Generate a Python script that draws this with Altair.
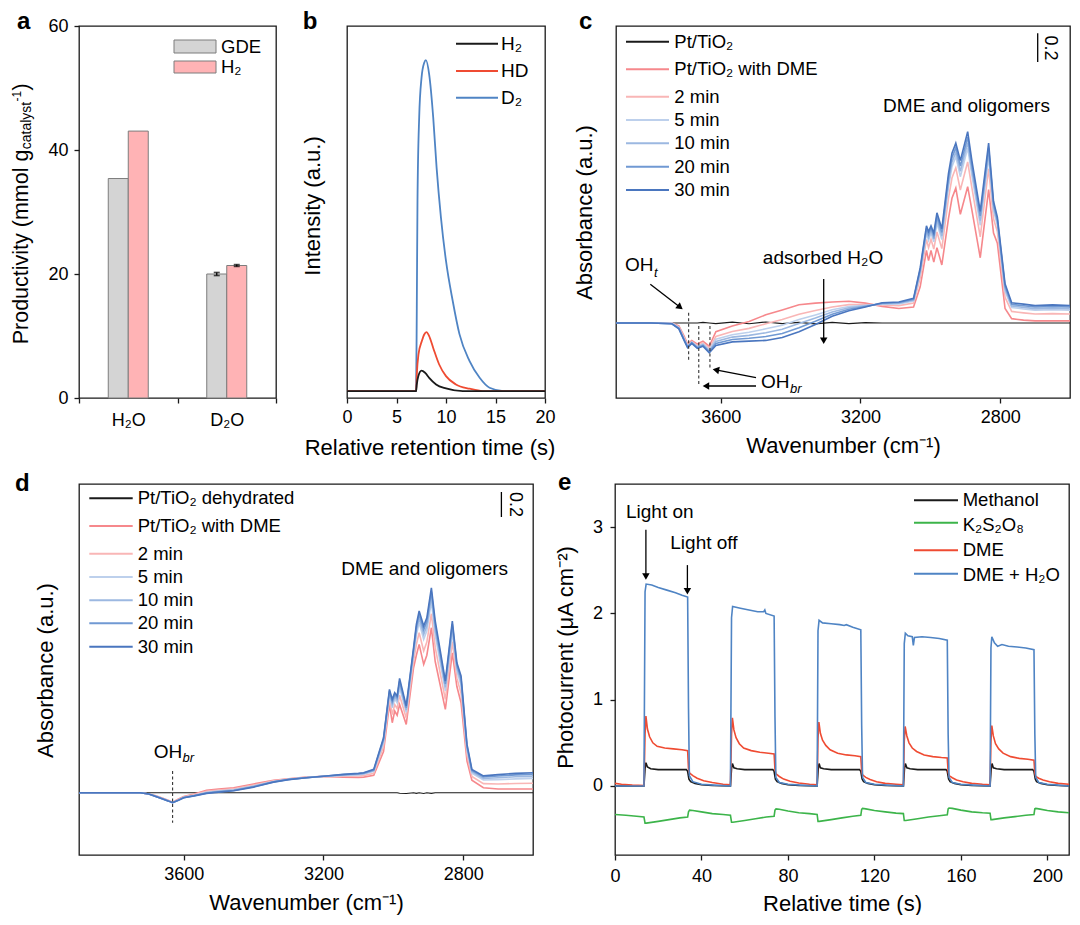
import math
import altair as alt
import pandas as pd

FONT = "Liberation Sans"

# ---------------- panel a : bars ----------------
a_categories = ["H₂O", "D₂O"]
a_series = ["GDE", "H₂"]
a_gde = [35.4, 20.0]
a_h2 = [43.05, 21.37]
a_gde_err = [0.0, 0.25]
a_h2_err = [0.0, 0.15]
a_ticks = [0, 20, 40, 60]

# ---------------- panel b : chromatograms (time s, intensity a.u.) ----------------
b_h2 = [(0, 0), (6.98, 0), (7.05, 0.02), (7.2, 0.045), (7.53, 0.062), (7.9, 0.055), (8.3, 0.04),
        (9.0, 0.02), (10.0, 0.008), (11.7, 0), (20, 0)]
b_hd = [(0, 0), (6.98, 0), (7.05, 0.05), (7.22, 0.111), (7.56, 0.151), (7.8, 0.171), (8.03, 0.178),
        (8.3, 0.166), (8.7, 0.131), (9.3, 0.081), (10.0, 0.045), (11.0, 0.02), (12.4, 0.007), (13.7, 0), (20, 0)]
b_d2 = [(0, 0), (6.98, 0), (7.05, 0.25), (7.12, 0.574), (7.29, 0.826), (7.53, 0.947), (7.8, 0.992),
        (7.97, 1.0), (8.3, 0.957), (8.71, 0.826), (9.05, 0.675), (9.49, 0.524), (10.0, 0.393),
        (10.68, 0.272), (11.36, 0.172), (12.37, 0.091), (13.4, 0.04), (14.4, 0.01), (15.8, 0), (20, 0)]
b_ticks = [0, 5, 10, 15, 20]

# ---------------- panel c : DRIFTS spectra ----------------
c_wn = [3900, 3800, 3740, 3720, 3705, 3695, 3683, 3667, 3651, 3633, 3614, 3567, 3519, 3471, 3424,
        3376, 3329, 3281, 3233, 3186, 3138, 3090, 3048, 3029, 3011, 3005, 2998, 2990, 2981, 2967,
        2948, 2938, 2927, 2914, 2893, 2881, 2857, 2833, 2819, 2808, 2786, 2767, 2733, 2700, 2650, 2600]
c_base = [0, 0, 0, 0, 0, 0, 0, 0, 0.004, 0, -0.004, 0.006, -0.005, 0.007, -0.004, 0.004, -0.006, 0.005,
          -0.004, 0.003, 0, 0, 0, 0, 0, 0, 0, 0, 0, 0, 0, 0, 0, 0, 0, 0, 0, 0, 0, 0, 0, 0, 0, 0, 0, 0]
c_dme = [0, 0, 0, -0.02, -0.09, -0.145, -0.12, -0.145, -0.125, -0.16, -0.06, -0.02, 0.01, 0.057, 0.09,
         0.126, 0.137, 0.145, 0.15, 0.137, 0.115, 0.10, 0.11, 0.25, 0.50, 0.43, 0.50, 0.42, 0.52, 0.40,
         0.72, 0.86, 0.93, 0.75, 0.94, 0.78, 0.45, 0.92, 0.62, 0.55, 0.10, 0.03, 0.02, 0.015, 0.015, 0.015]
c_2 = [0, 0, 0, -0.027, -0.10, -0.154, -0.127, -0.156, -0.137, -0.176, -0.093, -0.059, -0.037, -0.005, 0.024,
       0.061, 0.086, 0.110, 0.127, 0.128, 0.124, 0.120, 0.137, 0.309, 0.577, 0.52, 0.577, 0.51, 0.628, 0.513,
       0.86, 1.0, 1.07, 0.917, 1.111, 0.933, 0.594, 1.064, 0.719, 0.631, 0.177, 0.08, 0.07, 0.062, 0.065, 0.062]
c_5 = [0, 0, 0, -0.031, -0.107, -0.159, -0.131, -0.162, -0.144, -0.185, -0.112, -0.081, -0.064, -0.040, -0.015,
       0.024, 0.056, 0.091, 0.114, 0.122, 0.129, 0.132, 0.152, 0.341, 0.619, 0.57, 0.619, 0.56, 0.688, 0.575,
       0.937, 1.077, 1.147, 1.009, 1.206, 1.018, 0.674, 1.144, 0.774, 0.676, 0.219, 0.107, 0.097, 0.089, 0.092, 0.089]
c_10 = [0, 0, -0.005, -0.034, -0.111, -0.163, -0.134, -0.166, -0.150, -0.192, -0.127, -0.097, -0.085, -0.067, -0.043,
        -0.004, 0.034, 0.076, 0.105, 0.118, 0.133, 0.136, 0.158, 0.354, 0.636, 0.59, 0.636, 0.58, 0.712, 0.60,
        0.968, 1.108, 1.178, 1.046, 1.244, 1.052, 0.706, 1.176, 0.796, 0.694, 0.236, 0.118, 0.108, 0.099, 0.103, 0.099]
c_20 = [0, 0, -0.005, -0.037, -0.116, -0.166, -0.137, -0.171, -0.155, -0.198, -0.141, -0.114, -0.105, -0.093, -0.072,
        -0.032, 0.012, 0.061, 0.095, 0.114, 0.136, 0.141, 0.164, 0.367, 0.653, 0.61, 0.653, 0.60, 0.736, 0.625,
        0.999, 1.139, 1.209, 1.083, 1.282, 1.086, 0.738, 1.208, 0.818, 0.712, 0.253, 0.129, 0.119, 0.11, 0.114, 0.11]
c_30 = [0, 0, -0.005, -0.04, -0.12, -0.17, -0.14, -0.175, -0.16, -0.205, -0.155, -0.13, -0.125, -0.12, -0.10,
        -0.06, -0.01, 0.046, 0.085, 0.11, 0.14, 0.145, 0.17, 0.38, 0.67, 0.63, 0.67, 0.62, 0.76, 0.65,
        1.03, 1.17, 1.24, 1.12, 1.32, 1.12, 0.77, 1.24, 0.84, 0.73, 0.27, 0.14, 0.13, 0.12, 0.125, 0.12]
c_oh_wn = [3692, 3663, 3631]
c_oh_top = [0.071, -0.021, -0.021]
c_oh_bot = [-0.262, -0.423, -0.32]

# ---------------- panel d ----------------
d_wn = [3900, 3800, 3750, 3725, 3700, 3680, 3660, 3645, 3632, 3615, 3600, 3570, 3535, 3500, 3457, 3400,
        3343, 3300, 3249, 3200, 3143, 3100, 3085, 3056, 3028, 3011, 3003, 2996, 2989, 2982, 2963, 2942,
        2934, 2926, 2913, 2904, 2891, 2880, 2851, 2831, 2818, 2806, 2789, 2775, 2742, 2700, 2650, 2600]
d_base = [0, 0, 0, 0, 0, 0, 0, 0, 0, 0, 0, 0, 0, 0, 0, 0, 0, 0, 0, 0, 0, 0, 0, 0, 0, 0, 0, 0, 0, -0.004,
          -0.006, 0, -0.005, 0, -0.006, 0, -0.005, 0, 0, 0, 0, 0, 0, 0, 0, 0, 0, 0]
d_dme = [0, 0, 0, 0, -0.01, -0.025, -0.045, -0.06, -0.075, -0.05, -0.03, -0.01, 0.02, 0.03, 0.04, 0.07,
         0.10, 0.112, 0.125, 0.13, 0.125, 0.122, 0.125, 0.14, 0.33, 0.707, 0.56, 0.654, 0.62, 0.707, 0.547, 1.0,
         1.1, 1.187, 1.027, 1.10, 1.32, 1.05, 0.667, 1.12, 0.85, 0.72, 0.254, 0.10, 0.04, 0.03, 0.03, 0.03]
d_2 = [0, 0, 0, 0, -0.01, -0.027, -0.047, -0.062, -0.077, -0.054, -0.034, -0.015, 0.011, 0.021, 0.032, 0.061,
       0.095, 0.110, 0.123, 0.131, 0.133, 0.134, 0.137, 0.156, 0.369, 0.749, 0.625, 0.705, 0.674, 0.78, 0.598, 1.056,
       1.186, 1.28, 1.134, 1.205, 1.432, 1.163, 0.746, 1.209, 0.917, 0.795, 0.301, 0.13, 0.073, 0.07, 0.074, 0.076]
d_5 = [0, 0, 0, 0, -0.01, -0.028, -0.048, -0.063, -0.078, -0.057, -0.037, -0.020, 0.004, 0.014, 0.024, 0.054,
       0.09, 0.107, 0.122, 0.131, 0.139, 0.143, 0.148, 0.171, 0.40, 0.785, 0.68, 0.749, 0.72, 0.842, 0.643, 1.104,
       1.261, 1.361, 1.227, 1.295, 1.528, 1.261, 0.815, 1.285, 0.974, 0.859, 0.34, 0.157, 0.102, 0.105, 0.111, 0.115]
d_10 = [0, 0, 0, 0, -0.01, -0.029, -0.049, -0.064, -0.079, -0.058, -0.038, -0.022, 0.0, 0.011, 0.021, 0.051,
        0.088, 0.107, 0.121, 0.132, 0.142, 0.148, 0.152, 0.177, 0.416, 0.801, 0.706, 0.768, 0.74, 0.869, 0.662, 1.125,
        1.293, 1.395, 1.266, 1.334, 1.57, 1.303, 0.844, 1.318, 0.998, 0.887, 0.358, 0.168, 0.114, 0.12, 0.128, 0.131]
d_20 = [0, 0, 0, 0, -0.01, -0.030, -0.050, -0.065, -0.080, -0.059, -0.039, -0.024, -0.003, 0.008, 0.018, 0.048,
        0.087, 0.106, 0.12, 0.132, 0.145, 0.152, 0.157, 0.182, 0.429, 0.815, 0.728, 0.785, 0.759, 0.894, 0.679, 1.144,
        1.322, 1.427, 1.303, 1.37, 1.608, 1.342, 0.871, 1.349, 1.021, 0.913, 0.374, 0.178, 0.126, 0.134, 0.143, 0.147]
d_30 = [0, 0, 0, 0, -0.01, -0.03, -0.05, -0.065, -0.08, -0.06, -0.04, -0.025, -0.005, 0.005, 0.016, 0.045,
        0.085, 0.105, 0.12, 0.132, 0.147, 0.155, 0.16, 0.187, 0.44, 0.827, 0.747, 0.80, 0.774, 0.915, 0.694, 1.16,
        1.347, 1.454, 1.334, 1.40, 1.64, 1.374, 0.894, 1.374, 1.04, 0.934, 0.387, 0.187, 0.135, 0.145, 0.155, 0.16]
d_oh_wn = [3632]
d_oh_top = [0.174]
d_oh_bot = [-0.24]

spec_ticks = [3600, 3200, 2800]

# ---------------- panel e : photocurrent (time s, uA cm-2) ----------------
e_methanol = [(0, 0), (13.4, 0), (13.9, 0.2), (14.3, 0.27), (15, 0.22), (16.5, 0.2), (20, 0.19), (33.0, 0.19),
              (33.6, 0.17), (34.2, 0.08), (35, 0.05), (37, 0.03), (40, 0.015), (45, 0.005),
              (53.4, 0), (53.9, 0.2), (54.3, 0.26), (55, 0.21), (56.5, 0.2), (60, 0.19), (73.0, 0.19), (73.6, 0.17),
              (74.2, 0.08), (75, 0.05), (77, 0.03), (80, 0.015), (85, 0.005),
              (93.5, 0), (94.0, 0.2), (94.4, 0.26), (95, 0.21), (96.5, 0.2), (100, 0.19), (113.1, 0.19), (113.7, 0.17),
              (114.3, 0.08), (115, 0.05), (117, 0.03), (120, 0.015), (125, 0.005),
              (133.4, 0), (133.9, 0.2), (134.3, 0.26), (135, 0.21), (136.5, 0.2), (140, 0.19), (153.1, 0.19), (153.7, 0.17),
              (154.3, 0.08), (155, 0.05), (157, 0.03), (160, 0.015), (165, 0.005),
              (173.5, 0), (174.0, 0.2), (174.4, 0.26), (175, 0.21), (176.5, 0.2), (180, 0.19), (193.2, 0.19), (193.8, 0.17),
              (194.4, 0.08), (195, 0.05), (197, 0.03), (200, 0.015), (205, 0.005), (210, 0)]
e_k2s2o8 = [(0, -0.33), (5, -0.34), (10, -0.35), (13.4, -0.36), (13.9, -0.43), (14.5, -0.43), (20, -0.41), (25, -0.39),
            (30, -0.37), (33.6, -0.36), (34.0, -0.30), (34.5, -0.28), (36, -0.285), (40, -0.30), (45, -0.32), (50, -0.33),
            (53.4, -0.34), (53.9, -0.42), (54.5, -0.42), (60, -0.40), (65, -0.38), (70, -0.36), (73.6, -0.35),
            (74.0, -0.28), (74.5, -0.265), (76, -0.27), (80, -0.29), (85, -0.31), (90, -0.32), (93.5, -0.33),
            (93.9, -0.41), (94.5, -0.41), (100, -0.39), (105, -0.37), (110, -0.35), (113.7, -0.34), (114.1, -0.27),
            (114.5, -0.26), (116, -0.265), (120, -0.285), (125, -0.30), (130, -0.315), (133.4, -0.32), (133.8, -0.40),
            (134.5, -0.40), (140, -0.38), (145, -0.36), (150, -0.345), (153.7, -0.335), (154.1, -0.265), (154.5, -0.255),
            (156, -0.26), (160, -0.28), (165, -0.30), (170, -0.31), (173.5, -0.315), (173.9, -0.39), (174.5, -0.39),
            (180, -0.37), (185, -0.355), (190, -0.34), (193.8, -0.33), (194.2, -0.265), (194.6, -0.26), (196, -0.265),
            (200, -0.285), (205, -0.30), (210, -0.31)]
e_dme = [(0, 0.03), (3, 0.02), (8, 0.01), (13.4, 0.005), (13.9, 0.6), (14.3, 0.81), (15, 0.66), (16, 0.57), (17.5, 0.50),
         (19.5, 0.46), (23, 0.44), (27, 0.43), (31, 0.42), (33.6, 0.41), (34.0, 0.2), (34.5, 0.15), (36, 0.12), (38, 0.09),
         (41, 0.06), (45, 0.04), (50, 0.02), (53.4, 0.015),
         (53.9, 0.6), (54.3, 0.79), (55, 0.65), (56, 0.56), (57.5, 0.49), (59.5, 0.44), (63, 0.41), (67, 0.39), (71, 0.38),
         (73.6, 0.37), (74.0, 0.19), (74.5, 0.14), (76, 0.11), (78, 0.08), (81, 0.055), (85, 0.035), (90, 0.02), (93.5, 0.015),
         (93.9, 0.55), (94.3, 0.74), (95, 0.61), (96, 0.53), (97.5, 0.47), (99.5, 0.42), (103, 0.38), (107, 0.36), (111, 0.35),
         (113.7, 0.34), (114.1, 0.17), (114.5, 0.13), (116, 0.10), (118, 0.075), (121, 0.05), (125, 0.03), (130, 0.02),
         (133.4, 0.015), (133.8, 0.52), (134.2, 0.69), (135, 0.58), (136, 0.50), (137.5, 0.44), (139.5, 0.40), (143, 0.36),
         (147, 0.34), (151, 0.33), (153.7, 0.325), (154.1, 0.16), (154.5, 0.12), (156, 0.095), (158, 0.07), (161, 0.05),
         (165, 0.03), (170, 0.02), (173.5, 0.015), (173.9, 0.52), (174.3, 0.70), (175, 0.58), (176, 0.49), (177.5, 0.43),
         (179.5, 0.38), (183, 0.34), (187, 0.32), (191, 0.31), (193.8, 0.30), (194.2, 0.15), (194.6, 0.11), (196, 0.09),
         (198, 0.07), (201, 0.05), (205, 0.03), (210, 0.02)]
e_dme_h2o = [(0, 0), (13.4, 0), (13.9, 2.25), (14.4, 2.34), (17, 2.33), (20, 2.30), (24, 2.27), (28, 2.24), (31, 2.21),
             (33.6, 2.19), (34.0, 0.9), (34.4, 0.12), (36, 0.05), (40, 0.02), (46, 0.01),
             (53.4, 0.0), (53.9, 1.95), (54.4, 2.08), (58, 2.06), (62, 2.04), (66, 2.02), (68.8, 2.02), (69.3, 2.04),
             (69.8, 2.0), (73.6, 1.97), (74.0, 0.8), (74.4, 0.1), (76, 0.04), (80, 0.02), (86, 0.01),
             (93.5, 0.0), (93.9, 1.8), (94.4, 1.92), (96, 1.89), (100, 1.88), (104, 1.87), (106, 1.86), (107, 1.87),
             (110, 1.84), (113.7, 1.81), (114.1, 0.7), (114.5, 0.1), (116, 0.04), (120, 0.02), (126, 0.01),
             (133.4, 0.0), (133.8, 1.65), (134.3, 1.77), (135.5, 1.74), (137.5, 1.73), (138.0, 1.63), (138.5, 1.72),
             (142, 1.73), (146, 1.72), (150, 1.71), (153.7, 1.69), (154.1, 0.6), (154.5, 0.1), (156, 0.04), (160, 0.02),
             (166, 0.01), (173.5, 0.0), (173.9, 1.6), (174.3, 1.73), (175.5, 1.66), (177, 1.62), (179, 1.64), (182, 1.62),
             (186, 1.61), (190, 1.60), (193.8, 1.58), (194.2, 0.6), (194.6, 0.1), (196, 0.04), (200, 0.02), (205, 0.01),
             (210, 0.0)]
e_xticks = [0, 40, 80, 120, 160, 200]
e_yticks = [0, 1, 2, 3]

# ---------------- colours ----------------
BLACK = "#1a1a1a"
RED = "#ef4b32"
BLUE = "#4f84c4"
GREEN = "#3cb44a"
SPEC_COLORS = ["#1a1a1a", "#f6888c", "#f9b6b6", "#bdd0ec", "#9cb8e1", "#7099d3", "#4a76bf"]

ONE = pd.DataFrame({"k": [0]})


def text(s, x, y, size=18.5, align="left", baseline="alphabetic", angle=0, style="normal", weight="normal"):
    return alt.Chart(ONE).mark_text(
        text=s, align=align, baseline=baseline, angle=angle, fontSize=size, font=FONT,
        fontStyle=style, fontWeight=weight, color="black"
    ).encode(x=alt.value(x), y=alt.value(y))


def seg(x1, y1, x2, y2, color="black", width=1.3, dash=None):
    kw = dict(color=color, strokeWidth=width)
    if dash is not None:
        kw["strokeDash"] = dash
    return alt.Chart(ONE).mark_rule(**kw).encode(
        x=alt.value(x1), y=alt.value(y1), x2=alt.value(x2), y2=alt.value(y2))


def arrow(x1, y1, x2, y2, s=7.5, width=1.3):
    dx, dy = x2 - x1, y2 - y1
    L = math.hypot(dx, dy)
    ux, uy = dx / L, dy / L
    h = 0.433 * s
    cx, cy = x2 - ux * h, y2 - uy * h
    ang = abs(math.degrees(math.atan2(ux, -uy)) % 360)
    head = alt.Chart(ONE).mark_point(
        shape="triangle-up", filled=True, color="black", opacity=1, size=s * s, angle=ang, strokeWidth=0
    ).encode(x=alt.value(cx), y=alt.value(cy))
    return [seg(x1, y1, cx, cy, width=width), head]


def legline(x1, x2, y, color, width=2.0):
    return alt.Chart(ONE).mark_rule(color=color, strokeWidth=width).encode(
        x=alt.value(x1), x2=alt.value(x2), y=alt.value(y))


def box(x1, x2, y1, y2, fill, stroke="#7d7d7d"):
    return alt.Chart(ONE).mark_rect(fill=fill, stroke=stroke, strokeWidth=1).encode(
        x=alt.value(x1), x2=alt.value(x2), y=alt.value(y1), y2=alt.value(y2))


def xy(xs, ys):
    assert len(xs) == len(ys)
    return pd.DataFrame({"x": xs, "y": ys})


def pairs(p):
    return pd.DataFrame({"x": [a for a, _ in p], "y": [b for _, b in p]})


# =============== panel a =================
a_df = pd.DataFrame({
    "cat": a_categories + a_categories,
    "series": [a_series[0]] * 2 + [a_series[1]] * 2,
    "val": a_gde + a_h2,
    "err": a_gde_err + a_h2_err,
})
a_df["lo"] = a_df["val"] - a_df["err"]
a_df["hi"] = a_df["val"] + a_df["err"]
a_err = a_df[a_df["err"] > 0]

ax = alt.X("cat:N", sort=a_categories, scale=alt.Scale(paddingInner=0, paddingOuter=0),
           axis=alt.Axis(title=None, labelAngle=0, tickBand="extent", labelPadding=8))
aoff = alt.XOffset("series:N", sort=a_series, scale=alt.Scale(range=[29.25, 69.25], paddingInner=0, paddingOuter=0))
ay = alt.Y("val:Q", scale=alt.Scale(domain=[0, 60], nice=False),
           axis=alt.Axis(values=a_ticks, title=None, labelPadding=6))

a_layers = [
    alt.Chart(a_df).mark_bar(stroke="#7d7d7d", strokeWidth=1).encode(
        x=ax, xOffset=aoff, y=ay,
        color=alt.Color("series:N", scale=alt.Scale(domain=a_series, range=["#d4d4d4", "#ffb3b5"]), legend=None)),
    alt.Chart(a_err).mark_rule(color="black", strokeWidth=1.3).encode(
        x=ax, xOffset=aoff, y=alt.Y("lo:Q", title=None), y2="hi:Q"),
    alt.Chart(a_err).mark_tick(color="black", thickness=1.6, size=6).encode(
        x=ax, xOffset=aoff, y=alt.Y("lo:Q", title=None)),
    alt.Chart(a_err).mark_tick(color="black", thickness=1.6, size=6).encode(
        x=ax, xOffset=aoff, y=alt.Y("hi:Q", title=None)),
    box(95, 137, 14, 27, "#d4d4d4"),
    box(95, 137, 35, 47, "#ffb3b5"),
    text("GDE", 142, 20.5, baseline="middle"),
    text("H₂", 142, 41, baseline="middle"),
    # y title with subscript / superscript
    text("Productivity (mmol g", -51.3, 318.3, size=21.5, angle=270),
    text("catalyst", -48, 123.2, size=14, angle=270),
    text("-1", -58, 75.5, size=12, angle=270),
    text(")", -51.3, 64.5, size=21.5, angle=270),
    text("a", -62, 3.3, size=24, weight="bold"),
    seg(-69.5, -16.5, -69.5, -16, color="white", width=1),  # layout anchor
]
panel_a = alt.layer(*a_layers).properties(width=197, height=372)

# =============== panel b =================
bx = alt.X("x:Q", scale=alt.Scale(domain=[0, 20], nice=False),
           axis=alt.Axis(values=b_ticks, title="Relative retention time (s)", titleX=82.5, titleY=56,
                         titleBaseline="alphabetic", labelPadding=5))
by = alt.Y("y:Q", scale=alt.Scale(domain=[-0.021, 1.103], nice=False, zero=False),
           axis=alt.Axis(ticks=False, labels=False, title="Intensity (a.u.)", titleX=-27.7, titleY=179.5,
                         titleBaseline="alphabetic"))
b_layers = []
for data, col in [(b_d2, BLUE), (b_hd, RED), (b_h2, BLACK)]:
    b_layers.append(alt.Chart(pairs(data)).mark_line(color=col, strokeWidth=1.8, interpolate="monotone", clip=True)
                    .encode(x=bx, y=by))
for lab, col, yy in [("H₂", BLACK, 17.7), ("HD", RED, 45), ("D₂", BLUE, 71.7)]:
    b_layers.append(legline(109, 151, yy, col))
    b_layers.append(text(lab, 154, yy, size=19, baseline="middle"))
b_layers.append(text("b", -44.3, 3.3, size=24, weight="bold"))
panel_b = alt.layer(*b_layers).properties(width=198, height=372)


# =============== spectra helper =================
def spectra_panel(wn, series, labels, legend_rows, leg_x, ydom, ytitle_x, oh_wn, oh_top, oh_bot):
    sx = alt.X("x:Q", scale=alt.Scale(domain=[2600, 3900], reverse=True, nice=False, zero=False),
               axis=alt.Axis(values=spec_ticks, title="Wavenumber (cm⁻¹)", titleBaseline="alphabetic",
                             titleY=54, labelPadding=5, format="d"))
    sy = alt.Y("y:Q", scale=alt.Scale(domain=ydom, nice=False, zero=False),
               axis=alt.Axis(ticks=False, labels=False, title="Absorbance (a.u.)", titleX=ytitle_x,
                             titleY=186, titleBaseline="alphabetic"))
    layers = []
    for i, ys in enumerate(series):
        layers.append(alt.Chart(xy(wn, ys)).mark_line(color=SPEC_COLORS[i], strokeWidth=1.2 if i == 0 else 1.6,
                                                      clip=True).encode(x=sx, y=sy))
    ohdf = pd.DataFrame({"x": oh_wn, "y": oh_top, "y2": oh_bot})
    layers.append(alt.Chart(ohdf).mark_rule(color="#333333", strokeWidth=1.1, strokeDash=[3, 2.5]).encode(
        x=sx, y=sy, y2="y2:Q"))
    for i, (lab, yy) in enumerate(zip(labels, legend_rows)):
        layers.append(legline(leg_x[0], leg_x[1], yy, SPEC_COLORS[i], width=2.0))
        layers.append(text(lab, leg_x[2], yy, size=18.5, baseline="middle"))
    return layers


# =============== panel c =================
c_labels = ["Pt/TiO₂", "Pt/TiO₂ with DME", "2 min", "5 min", "10 min", "20 min", "30 min"]
c_rows = [15.7, 43.3, 70.7, 94, 117.3, 140.7, 164]
c_layers = spectra_panel(c_wn, [c_base, c_dme, c_2, c_5, c_10, c_20, c_30], c_labels, c_rows,
                         (10, 53, 58.3), [-0.517, 2.048], -25, c_oh_wn, c_oh_top, c_oh_bot)
c_layers += [
    text("DME and oligomers", 350.5, 86, size=19, align="center"),
    text("adsorbed H₂O", 207, 238, size=19, align="center"),
    *arrow(207.7, 253, 207.7, 318),
    text("OH", 9, 245, size=19),
    text("t", 38, 251, size=13, style="italic"),
    *arrow(34.3, 258.3, 66.7, 283.3),
    text("OH", 145, 362.3, size=19),
    text("br", 174, 366.5, size=13, style="italic"),
    *arrow(140, 351.7, 96.7, 343.3),
    *arrow(140, 360, 86.7, 360),
    seg(421.7, 7.3, 421.7, 36, width=1.3),
    text("0.2", 434, 22, size=18, align="center", baseline="middle", angle=90),
    text("c", -37, 3.3, size=24, weight="bold"),
]
panel_c = alt.layer(*c_layers).properties(width=454, height=372)

# =============== panel d =================
d_labels = ["Pt/TiO₂ dehydrated", "Pt/TiO₂ with DME", "2 min", "5 min", "10 min", "20 min", "30 min"]
d_rows = [14.3, 42, 69.7, 93, 116.3, 139.3, 162.7]
d_layers = spectra_panel(d_wn, [d_base, d_dme, d_2, d_5, d_10, d_20, d_30], d_labels, d_rows,
                         (10.3, 53.7, 58.7), [-0.498, 2.47], -26.3, d_oh_wn, d_oh_top, d_oh_bot)
d_layers += [
    text("DME and oligomers", 345.6, 91.3, size=19, align="center"),
    text("OH", 74.7, 273.7, size=19),
    text("br", 103.5, 277.7, size=13, style="italic"),
    seg(422.4, 8, 422.4, 33, width=1.3),
    text("0.2", 436, 20.5, size=18, align="center", baseline="middle", angle=90),
    text("d", -64, 7, size=24, weight="bold"),
]
panel_d = alt.layer(*d_layers).properties(width=454, height=371)

# =============== panel e =================
ex = alt.X("x:Q", scale=alt.Scale(domain=[0, 210], nice=False),
           axis=alt.Axis(values=e_xticks, title="Relative time (s)", titleBaseline="alphabetic", titleY=55,
                         labelPadding=7))
ey = alt.Y("y:Q", scale=alt.Scale(domain=[-0.8, 3.5], nice=False, zero=False),
           axis=alt.Axis(values=e_yticks, title="Photocurrent (μA cm⁻²)", titleX=-43, titleY=173,
                         titleBaseline="alphabetic", labelPadding=7.5))
e_layers = []
for data, col in [(e_methanol, BLACK), (e_k2s2o8, GREEN), (e_dme, RED), (e_dme_h2o, BLUE)]:
    e_layers.append(alt.Chart(pairs(data)).mark_line(color=col, strokeWidth=1.6, clip=True).encode(x=ex, y=ey))
for lab, col, ly, ty in [("Methanol", BLACK, 16.3, 16.3), ("K₂S₂O₈", GREEN, 38.7, 40.5),
                         ("DME", RED, 66.3, 66.3), ("DME + H₂O", BLUE, 89.7, 90.5)]:
    e_layers.append(legline(299, 343, ly, col))
    e_layers.append(text(lab, 347.7, ty, size=18.5, baseline="middle"))
e_layers += [
    text("Light on", 44.8, 33.6, size=19, align="center"),
    *arrow(30.9, 45.7, 30.9, 95.8),
    text("Light off", 88.9, 65.1, size=19, align="center"),
    *arrow(72.4, 81.1, 72.4, 110.4),
    text("e", -57, 6.3, size=24, weight="bold"),
]
panel_e = alt.layer(*e_layers).properties(width=454, height=371)

# =============== layout =================
row1 = alt.hconcat(panel_a, panel_b, panel_c, spacing=71, bounds="flush").resolve_scale(
    x="independent", y="independent")
row2 = alt.hconcat(panel_d, panel_e, spacing=82, bounds="flush").resolve_scale(
    x="independent", y="independent")

# nested concat groups count as zero-height under flush bounds: spacing = row-1 height + gap
chart = alt.vconcat(row1, row2, spacing=372 + 86, bounds="flush").resolve_scale(
    x="independent", y="independent"
).properties(padding=0).configure_view(
    stroke="#1a1a1a", strokeWidth=1.3
).configure_axis(
    domain=False, grid=False, tickColor="#1a1a1a", tickWidth=1.3, tickSize=5,
    labelFont=FONT, labelFontSize=18, labelColor="black", labelFlush=False,
    titleFont=FONT, titleFontSize=22, titleFontWeight="normal", titleColor="black"
).configure_text(font=FONT)

chart.save("out.html", embed_options={"renderer": "svg", "actions": False})
